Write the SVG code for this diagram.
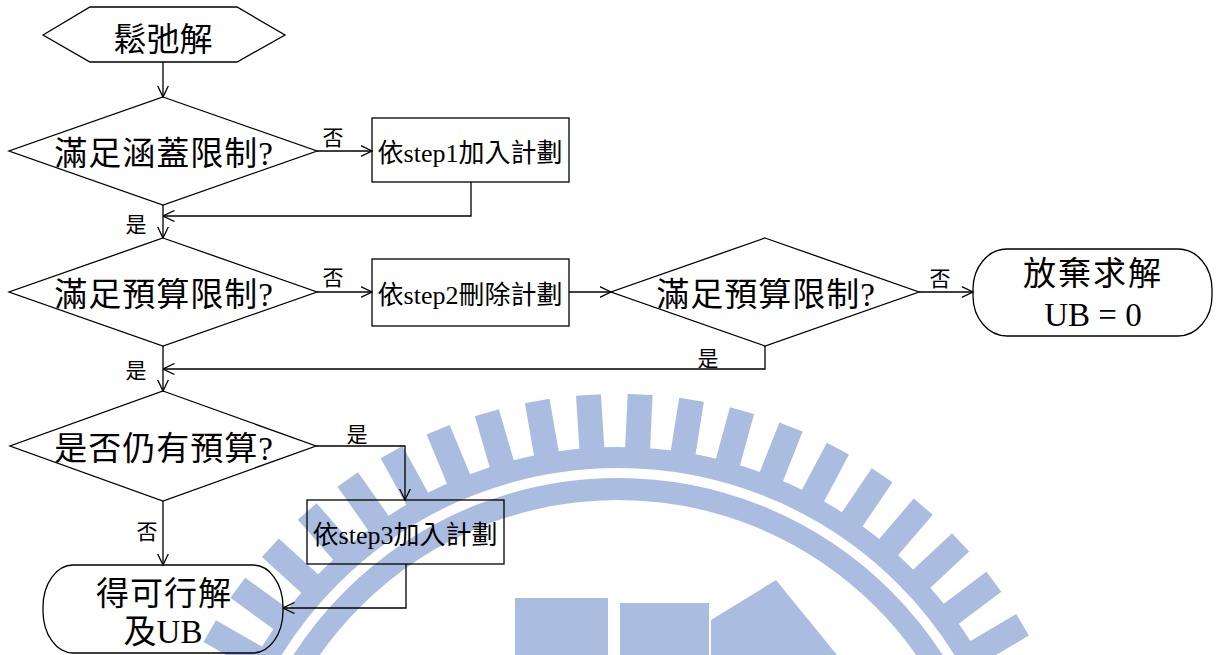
<svg xmlns="http://www.w3.org/2000/svg" width="1221" height="655" viewBox="0 0 1221 655">
<style>
.s{fill:none;stroke:#000;stroke-width:1.3}
.c{fill:none;stroke:#000;stroke-width:1.3}
.t{font-family:"Liberation Serif","Noto Sans CJK TC",serif;font-size:33px;text-anchor:middle;fill:#000}
.d{letter-spacing:1px}
.m{font-size:26px}
.l{font-size:21px}
.w{fill:#aabde0}
</style>
<defs>
<marker id="ah" viewBox="0 0 12 12" refX="11.5" refY="6" markerWidth="12" markerHeight="12" markerUnits="userSpaceOnUse" orient="auto">
<path d="M0,0.5 L11.5,6 L0,11.5" fill="none" stroke="#000" stroke-width="1.3"/>
</marker>
<rect id="tk" x="605.5" y="394" width="25" height="62"/>
</defs>
<rect width="1221" height="655" fill="#fff"/>
<g id="watermark">
<circle cx="618" cy="864" r="406.5" fill="none" stroke="#aabde0" stroke-width="21"/>
<circle cx="618" cy="864" r="375" fill="none" stroke="#aabde0" stroke-width="22"/>
<g class="w">
<use href="#tk" transform="rotate(-60.3 618 864)"/>
<use href="#tk" transform="rotate(-54 618 864)"/>
<use href="#tk" transform="rotate(-47.7 618 864)"/>
<use href="#tk" transform="rotate(-41.4 618 864)"/>
<use href="#tk" transform="rotate(-35.1 618 864)"/>
<use href="#tk" transform="rotate(-28.8 618 864)"/>
<use href="#tk" transform="rotate(-22.5 618 864)"/>
<use href="#tk" transform="rotate(-16.2 618 864)"/>
<use href="#tk" transform="rotate(-9.9 618 864)"/>
<use href="#tk" transform="rotate(-3.6 618 864)"/>
<use href="#tk" transform="rotate(2.7 618 864)"/>
<use href="#tk" transform="rotate(9 618 864)"/>
<use href="#tk" transform="rotate(15.3 618 864)"/>
<use href="#tk" transform="rotate(21.6 618 864)"/>
<use href="#tk" transform="rotate(27.9 618 864)"/>
<use href="#tk" transform="rotate(34.2 618 864)"/>
<use href="#tk" transform="rotate(40.5 618 864)"/>
<use href="#tk" transform="rotate(46.8 618 864)"/>
<use href="#tk" transform="rotate(53.1 618 864)"/>
<use href="#tk" transform="rotate(59.4 618 864)"/>
<rect x="515" y="598" width="93" height="57"/>
<rect x="620" y="603" width="89" height="52"/>
<polygon points="711,620 776,580 837,655 711,655"/>
</g>
</g>
<g id="connectors">
<path class="c" d="M163,62 L163,97" marker-end="url(#ah)"/>
<path class="c" d="M317,151 L372,151" marker-end="url(#ah)"/>
<path class="c" d="M471,182 L471,216 L163,216" marker-end="url(#ah)"/>
<path class="c" d="M163,205 L163,238" marker-end="url(#ah)"/>
<path class="c" d="M317,292 L372,292" marker-end="url(#ah)"/>
<path class="c" d="M569,292 L611,292" marker-end="url(#ah)"/>
<path class="c" d="M919,292 L973,292" marker-end="url(#ah)"/>
<path class="c" d="M765,346 L765,369 L163,369" marker-end="url(#ah)"/>
<path class="c" d="M163,346 L163,391" marker-end="url(#ah)"/>
<path class="c" d="M316,446 L405,446 L405,500" marker-end="url(#ah)"/>
<path class="c" d="M163,501 L163,565" marker-end="url(#ah)"/>
<path class="c" d="M406,564 L406,608 L283,608" marker-end="url(#ah)"/>
<text class="t l" x="333" y="145">否</text>
<text class="t l" x="136" y="232">是</text>
<text class="t l" x="333" y="285">否</text>
<text class="t l" x="940" y="286">否</text>
<text class="t l" x="708" y="366">是</text>
<text class="t l" x="136" y="378">是</text>
<text class="t l" x="357" y="442">是</text>
<text class="t l" x="147" y="539">否</text>
</g>
<g id="n-start">
<polygon class="s" points="43,35 90,7 237,7 285,35 237,62 90,62"/>
<text class="t" x="163" y="51">鬆弛解</text>
</g>
<g id="n-cover">
<polygon class="s" points="163,97 317,151 163,205 9,151"/>
<text class="t d" x="164" y="165">滿足涵蓋限制?</text>
</g>
<g id="n-step1">
<rect class="s" x="372" y="118" width="197" height="64"/>
<text class="t m" x="470" y="162">依step1加入計劃</text>
</g>
<g id="n-budget1">
<polygon class="s" points="163,238 317,292 163,346 9,292"/>
<text class="t d" x="164" y="306">滿足預算限制?</text>
</g>
<g id="n-step2">
<rect class="s" x="372" y="259" width="197" height="67"/>
<text class="t m" x="470" y="304">依step2刪除計劃</text>
</g>
<g id="n-budget2">
<polygon class="s" points="765,238 919,292 765,346 611,292"/>
<text class="t d" x="766" y="306">滿足預算限制?</text>
</g>
<g id="n-giveup">
<rect class="s" x="973" y="249" width="239" height="87" rx="34" ry="40"/>
<text class="t" x="1093" y="285" style="letter-spacing:2px">放棄求解</text>
<text class="t" x="1093" y="326">UB = 0</text>
</g>
<g id="n-remain">
<polygon class="s" points="163,391 316,446 163,501 10,446"/>
<text class="t d" x="164" y="460">是否仍有預算?</text>
</g>
<g id="n-step3">
<rect class="s" x="307" y="500" width="197" height="64"/>
<text class="t m" x="405" y="544">依step3加入計劃</text>
</g>
<g id="n-feasible">
<rect class="s" x="43" y="565" width="240" height="88" rx="30" ry="42"/>
<text class="t" x="164" y="605" style="letter-spacing:1px">得可行解</text>
<text class="t" x="163" y="643">及UB</text>
</g>
</svg>
